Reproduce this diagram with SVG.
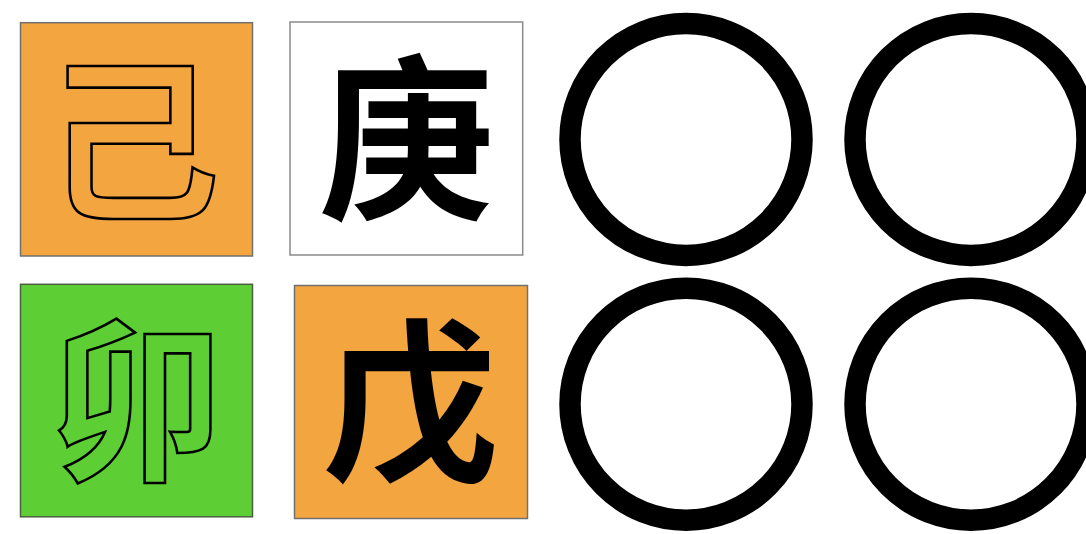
<svg xmlns="http://www.w3.org/2000/svg" width="1086" height="534" viewBox="0 0 1086 534">
<style>
.sq{stroke-width:1.5}
.orange{fill:#F3A540;stroke:#707070}
.green{fill:#5ECE35;stroke:#4c5f40}
.white{fill:#FFFFFF;stroke:#8a8a8a}
.ch{font-family:"Noto Sans CJK SC","Noto Sans CJK JP",sans-serif;font-size:176px;font-weight:700;text-anchor:middle}
.solid{fill:#000}
.outline{fill:none;stroke:#000;stroke-width:2.6}
.ring{fill:none;stroke:#000;stroke-width:21.5}
</style>
<rect width="1086" height="534" fill="#fff"/>
<g id="node-ji">
<rect class="sq orange" x="20.5" y="22.7" width="232" height="233.3"/>
<text class="ch outline" x="132" y="206">己</text>
</g>
<g id="node-geng">
<rect class="sq white" x="290" y="22" width="232.7" height="233"/>
<text class="ch solid" x="406.5" y="205">庚</text>
</g>
<g id="node-mao">
<rect class="sq green" x="20.5" y="284.3" width="232" height="232.5"/>
<text class="ch outline" x="136.5" y="467">卯</text>
</g>
<g id="node-wu">
<rect class="sq orange" x="294.5" y="285.5" width="233" height="233"/>
<text class="ch solid" x="410.5" y="468">戊</text>
</g>
<g id="node-c1"><circle class="ring" cx="686" cy="139.5" r="116"/></g>
<g id="node-c2"><circle class="ring" cx="971" cy="139.5" r="116"/></g>
<g id="node-c3"><circle class="ring" cx="686" cy="404.2" r="116"/></g>
<g id="node-c4"><circle class="ring" cx="971" cy="404.2" r="116"/></g>
<g id="connectors"></g>
</svg>
